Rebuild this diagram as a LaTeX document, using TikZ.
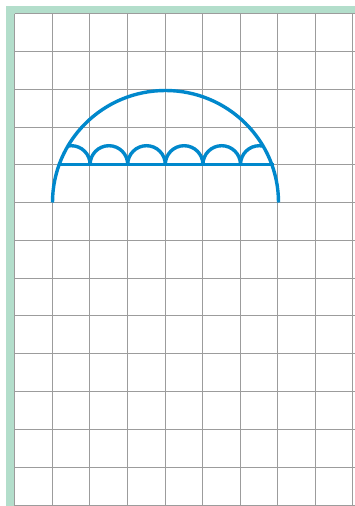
\documentclass[tikz,border=0pt]{standalone}
\definecolor{gridgray}{HTML}{9C9C9C}
\definecolor{framegreen}{HTML}{B3DECB}
\definecolor{arcblue}{HTML}{0088CC}
\begin{document}
\begin{tikzpicture}[x=1pt,y=-1pt,
  gridline/.style={draw=gridgray,line width=1.3pt},
  bluearc/.style={draw=arcblue,line width=3.4pt}]
\useasboundingbox (0,0) rectangle (355,506);
\fill[white] (0,0) rectangle (355,506);
% green frame
\fill[framegreen] (6,6) rectangle (355,13.5);
\fill[framegreen] (6,6) rectangle (14,506);
% grid
\def\cw{37.6}
\foreach \x in {14.5,52.5,89.5,127.5,165.5,202.5,240.5,277.5,315.5,352.5}
  \draw[gridline] (\x,13.5) -- (\x,506);
\foreach \y in {13.5,51.5,89.5,127.5,164.5,202.5,240.5,278.5,315.5,353.5,391.5,429.5,467.5,505.5}
  \draw[gridline] (14.5,\y) -- (355,\y);
% big semicircle
\coordinate (c) at (165.5,202.5);
\coordinate (L) at (52.5,202.5);
\draw[bluearc] (L) arc[start angle=180,end angle=360,x radius=113,y radius=112];
% chord
\coordinate (A) at (57.5,164.5);
\coordinate (B) at (273.5,164.5);
\draw[bluearc] (A) -- (B);
% small humps clipped by big arc
\begin{scope}
\clip (L) arc[start angle=180,end angle=360,x radius=113,y radius=112] -- cycle;
\foreach \k in {0,...,5}
  \draw[bluearc] (52.5+\k*\cw,164.5) arc[start angle=180,end angle=360,radius=18.8];
\end{scope}
\end{tikzpicture}
\end{document}
